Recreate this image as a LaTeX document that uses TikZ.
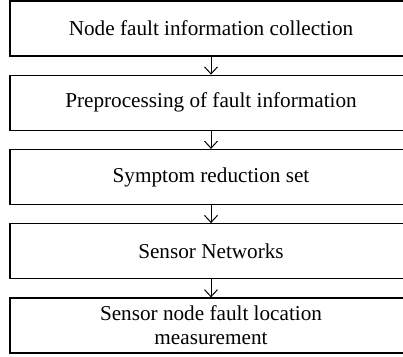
\documentclass[tikz,border=0pt]{standalone}
\usepackage{fontspec}
\setmainfont{Liberation Serif}
\usetikzlibrary{arrows.meta}
\begin{document}
\begin{tikzpicture}[x=1pt,y=-1pt,
  stepbox/.style={draw,line width=1.3pt,minimum width=402pt,minimum height=55pt,inner sep=0pt,align=center,font=\fontsize{21.2}{24}\selectfont},
  flow/.style={line width=1pt,-{Straight Barb[length=7pt,width=13pt,line width=1pt]}}]
\useasboundingbox (0,0) rectangle (403,356);
\node[stepbox] (a) at (211,28.5) {Node fault information collection};
\node[stepbox] (b) at (211,102.75) {Preprocessing of fault information};
\node[stepbox] (c) at (211,177) {Symptom reduction set};
\node[stepbox] (d) at (211,251.25) {Sensor Networks};
\node[stepbox] (e) at (211,325.5) {Sensor node fault location\\measurement};
\draw[flow] (a) -- (b);
\draw[flow] (b) -- (c);
\draw[flow] (c) -- (d);
\draw[flow] (d) -- (e);
\end{tikzpicture}
\end{document}
